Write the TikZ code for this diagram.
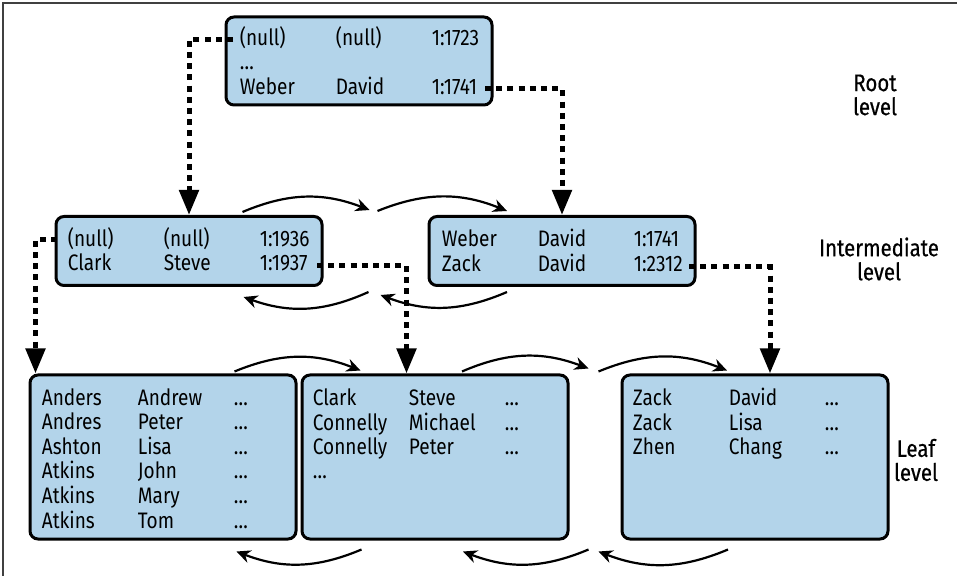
\documentclass[tikz,border=0pt]{standalone}
\usepackage{fontspec}
\setmainfont[FakeStretch=0.85]{Fira Sans}
\newfontfamily\levelfont[FakeStretch=0.85,FakeBold=0.6]{Fira Sans}
\usetikzlibrary{arrows.meta}
\definecolor{pageblue}{RGB}{179,212,234}
\setlength{\tabcolsep}{0pt}

\tikzset{
	page/.style={draw, line width=1.5pt, rounded corners=4pt, fill=pageblue,
		minimum width=133pt, inner sep=0pt},
	entries/.style={anchor=base west, inner sep=0pt,
		font=\fontsize{11.2}{12}\selectfont},
	pointer/.style={line width=2.5pt, dash pattern=on 3pt off 2.6pt,
		-{Triangle[width=9.5pt,length=12.5pt]}},
	chain/.style={line width=1.1pt, -{Stealth[length=7pt,width=6.5pt]}, bend left=22},
	levellabel/.style={align=center, inner sep=0pt,
		font=\levelfont\fontsize{12}{12}\selectfont}
}

\begin{document}
\begin{tikzpicture}[x=0.5pt, y=-0.5pt]
	\useasboundingbox (0,0) rectangle (957,576);
	\draw[black!75, line width=0.7pt] (3,576) -- (3,3) -- (957,3);

	\node[page, minimum height=44pt] (root) at (359,61) {};
	\node[page, minimum height=34.5pt] (intL) at (189,251) {};
	\node[page, minimum height=34.5pt] (intR) at (562,251) {};
	\node[page, minimum height=82pt] (leafA) at (163,457) {};
	\node[page, minimum height=82pt] (leafB) at (435,457) {};
	\node[page, minimum height=82pt] (leafC) at (755,457) {};

	\node[entries] (roottext) at ([shift={(15,30)}]root.north west)
		{\begin{tabular}[t]{@{}p{48pt}p{48pt}l@{}}
			(null) & (null) & 1:1723\\
			\dots\\
			Weber & David & 1:1741
		\end{tabular}};
	\node[entries] (intLtext) at ([shift={(13,32)}]intL.north west)
		{\begin{tabular}[t]{@{}p{48pt}p{48pt}l@{}}
			(null) & (null) & 1:1936\\
			Clark & Steve & 1:1937
		\end{tabular}};
	\node[entries] (intRtext) at ([shift={(14,32)}]intR.north west)
		{\begin{tabular}[t]{@{}p{48pt}p{48pt}l@{}}
			Weber & David & 1:1741\\
			Zack & David & 1:2312
		\end{tabular}};
	\node[entries] (leafAtext) at ([shift={(13,32)}]leafA.north west)
		{\begin{tabular}[t]{@{}p{48pt}p{48pt}l@{}}
			Anders & Andrew & \dots\\
			Andres & Peter & \dots\\
			Ashton & Lisa & \dots\\
			Atkins & John & \dots\\
			Atkins & Mary & \dots\\
			Atkins & Tom & \dots
		\end{tabular}};
	\node[entries] (leafBtext) at ([shift={(12,32)}]leafB.north west)
		{\begin{tabular}[t]{@{}p{48pt}p{48pt}l@{}}
			Clark & Steve & \dots\\
			Connelly & Michael & \dots\\
			Connelly & Peter & \dots\\
			\dots
		\end{tabular}};
	\node[entries] (leafCtext) at ([shift={(12,32)}]leafC.north west)
		{\begin{tabular}[t]{@{}p{48pt}p{48pt}l@{}}
			Zack & David & \dots\\
			Zack & Lisa & \dots\\
			Zhen & Chang & \dots
		\end{tabular}};

	\node[levellabel] (rootlabel) at (875,95) {Root\\level};
	\node[levellabel] (intlabel) at (879,259) {Intermediate\\level};
	\node[levellabel] (leaflabel) at (916,460) {Leaf\\level};

	\coordinate (rootfirst) at (233,40);
	\coordinate (rootlast) at (485,89);
	\coordinate (intLfirst) at (57,240);
	\coordinate (intLlast) at (317,266);
	\coordinate (intRlast) at (689,267);

	\draw[pointer] (rootfirst) -| (intL.north);
	\draw[pointer] (rootlast) -| (intR.north);
	\draw[pointer] (intLfirst) -| ([xshift=3.5pt]leafA.north west);
	\draw[pointer] (intLlast) -| ([xshift=53pt]leafB.north west);
	\draw[pointer] (intRlast) -| ([xshift=7.5pt]leafC.north);

	\draw[chain] ([shift={(-81,-3)}]intL.north east) to ([shift={(-58,-5)}]intR.north west);
	\draw[chain] ([shift={(-50,-4)}]intR.north west) to ([shift={(-55,-4)}]intR.north);
	\draw[chain] ([shift={(-59,5)}]intR.south west) to ([shift={(-80,10)}]intL.south east);
	\draw[chain] ([shift={(-55,5)}]intR.south) to ([shift={(-47,8)}]intR.south west);

	\draw[chain] ([shift={(-63,-2)}]leafA.north east) to ([shift={(60,-3)}]leafB.north west);
	\draw[chain] ([shift={(27,-2)}]leafB.north) to ([shift={(-32,-5)}]leafC.north west);
	\draw[chain] ([shift={(-22,-2)}]leafC.north west) to ([shift={(-28,-3)}]leafC.north);
	\draw[chain] ([shift={(61,9)}]leafB.south west) to ([shift={(-61,11)}]leafA.south east);
	\draw[chain] ([shift={(-32,9)}]leafC.south west) to ([shift={(28,11)}]leafB.south);
	\draw[chain] ([shift={(-27,9)}]leafC.south) to ([shift={(-22,11)}]leafC.south west);
\end{tikzpicture}
\end{document}
